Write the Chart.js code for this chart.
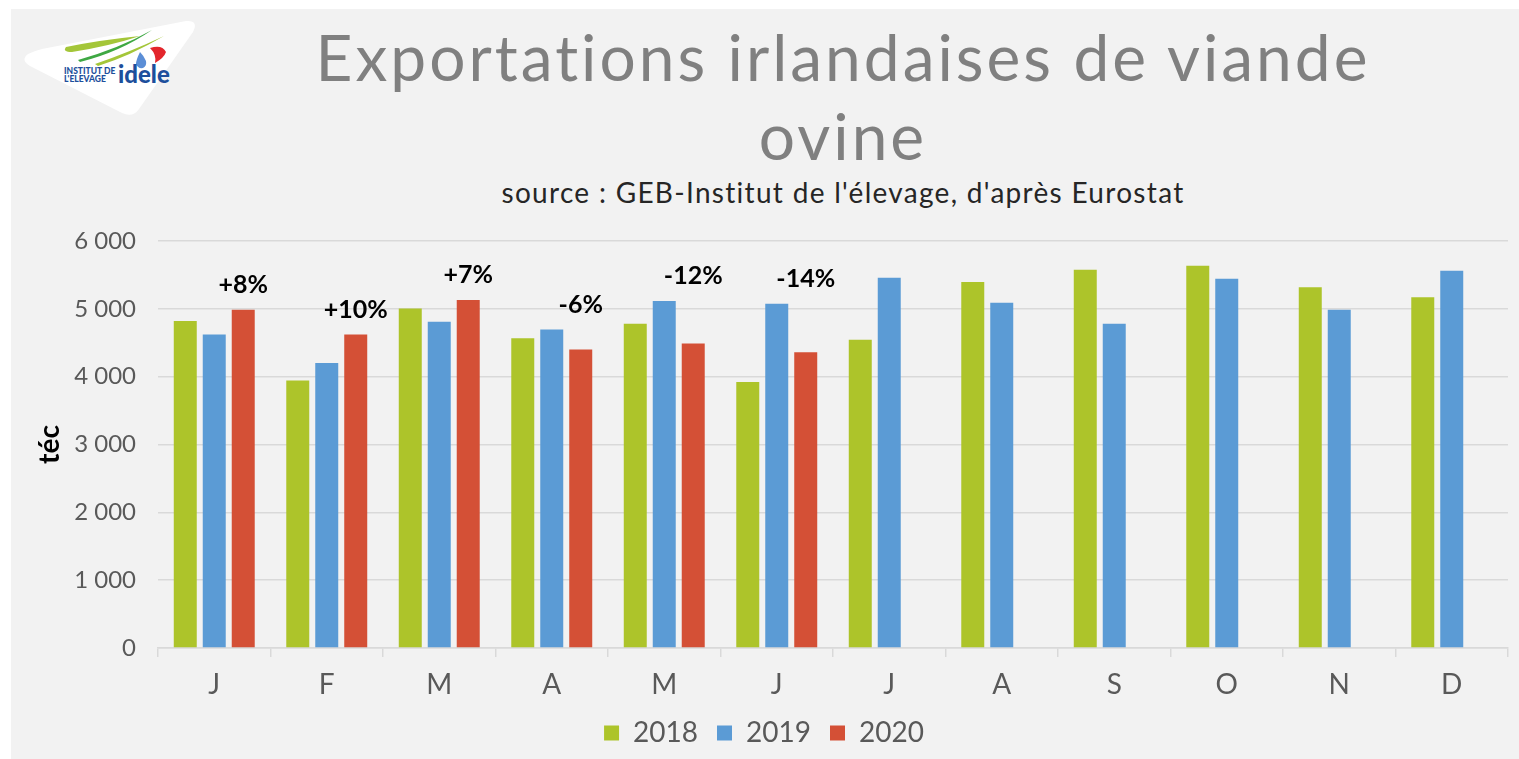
<!DOCTYPE html>
<html>
<head>
<meta charset="utf-8">
<script src="https://cdn.jsdelivr.net/npm/chart.js@4.4.1/dist/chart.umd.min.js"></script>
<style>
  html, body { margin: 0; padding: 0; background: #ffffff; }
  body { width: 1519px; height: 759px; position: relative; overflow: hidden; font-family: Lato, "Open Sans", sans-serif; }
  #bg { position: absolute; left: 11px; top: 9px; width: 1508px; height: 750px; background: #f2f2f2; }
  #wrap { position: absolute; left: 0; top: 0; width: 1519px; height: 759px; }
  #title { position: absolute; left: 243px; width: 1200px; top: 17px; text-align: center; color: #808080;
           font-family: Lato, sans-serif; font-weight: 400; font-size: 64px; line-height: 79px; letter-spacing: 3px; }
  #subtitle { position: absolute; left: 243px; width: 1200px; top: 175px; text-align: center; color: #262626;
              font-family: Lato, sans-serif; font-size: 28px; line-height: 34px; letter-spacing: 1.3px; }
  #logo { position: absolute; left: 0; top: 0; }
</style>
</head>
<body>
<div id="bg"></div>
<svg id="logo" width="210" height="125" viewBox="0 0 210 125">
  <path d="M 28 54 Q 20 60 30 66 L 122 113 Q 133 118 139 109 L 193 32 Q 199 20 186 21 L 42 49 Q 34 51 28 54 Z" fill="#ffffff"/>
  <path d="M 66 47 Q 100 40 140 36 Q 110 46 72 52 Q 62 52 66 47 Z" fill="#a4c639"/>
  <path d="M 78 60 Q 120 48 152 30 Q 120 52 80 62 Z" fill="#3ea843"/>
  <path d="M 95 64 Q 130 52 164 36 Q 130 56 98 66 Z" fill="#a4c639"/>
  <path d="M 140 52 Q 136 60 136 64 Q 138 69 143 68 Q 147 66 146 61 Q 144 56 140 52 Z" fill="#5b8ed6"/>
  <path d="M 150 48 Q 162 44 166 52 Q 164 58 155 63 Q 157 55 150 48 Z" fill="#e3262c"/>
  <text x="64" y="74" font-family="Lato, sans-serif" font-weight="900" font-size="8.5" fill="#1d4f9c">INSTITUT DE</text>
  <text x="64" y="82" font-family="Lato, sans-serif" font-weight="900" font-size="8.5" fill="#1d4f9c">L'ELEVAGE</text>
  <text x="118" y="83" font-family="Lato, sans-serif" font-weight="900" font-size="24" fill="#1d4f9c">idele</text>
</svg>
<div id="title">Exportations irlandaises de viande<br>ovine</div>
<div id="subtitle">source : GEB-Institut de l'élevage, d'après Eurostat</div>
<div id="wrap"><canvas id="c" width="1519" height="759"></canvas></div>
<script>
const months = ['J','F','M','A','M','J','J','A','S','O','N','D'];
const years = ['2018','2019','2020'];
const v2018 = [4820, 3945, 5005, 4565, 4780, 3920, 4545, 5395, 5575, 5635, 5320, 5170];
const v2019 = [4620, 4200, 4810, 4695, 5115, 5075, 5460, 5090, 4780, 5445, 4985, 5560];
const v2020 = [4985, 4620, 5130, 4400, 4490, 4360, null, null, null, null, null, null];
const changes = ['+8%','+10%','+7%','-6%','-12%','-14%', null, null, null, null, null, null];
const yTicks = [0, 1000, 2000, 3000, 4000, 5000, 6000];

const colors = ['#adc42a', '#5b9bd5', '#d45036'];

const changeLabels = {
  id: 'changeLabels',
  afterDatasetsDraw(chart) {
    const ctx = chart.ctx;
    const metas = [0,1,2].map(i => chart.getDatasetMeta(i));
    ctx.save();
    ctx.font = 'bold 25px Lato, sans-serif';
    ctx.fillStyle = '#000000';
    ctx.textAlign = 'center';
    ctx.textBaseline = 'middle';
    changes.forEach((txt, i) => {
      if (!txt) return;
      const red = metas[2].data[i];
      const top = Math.min(...metas.map(m => m.data[i] ? m.data[i].y : Infinity));
      ctx.fillText(txt, red.x, top - 25);
    });
    ctx.restore();
  }
};

new Chart(document.getElementById('c'), {
  type: 'bar',
  data: {
    labels: months,
    datasets: [
      { label: years[0], data: v2018, backgroundColor: colors[0] },
      { label: years[1], data: v2019, backgroundColor: colors[1] },
      { label: years[2], data: v2020, backgroundColor: colors[2] }
    ]
  },
  options: {
    responsive: false,
    animation: false,
    devicePixelRatio: 1,
    categoryPercentage: 0.773,
    barPercentage: 0.793,
    layout: { padding: { left: 20, top: 241, right: 11, bottom: 2 } },
    plugins: {
      legend: {
        position: 'bottom',
        labels: {
          boxWidth: 15, boxHeight: 15, padding: 19,
          color: '#595959',
          font: { family: 'Lato, sans-serif', size: 28, lineHeight: 0.8 }
        }
      },
      tooltip: { enabled: false },
      title: { display: false }
    },
    scales: {
      x: {
        afterFit(scale) { scale.height = 52; },
        grid: { display: true, drawOnChartArea: false, drawTicks: true, tickLength: 9, color: '#d9d9d9', lineWidth: 1.5 },
        border: { display: true, color: '#d9d9d9', width: 1.5 },
        ticks: { color: '#595959', padding: 17, font: { family: 'Lato, sans-serif', size: 28, lineHeight: 0.8 } }
      },
      y: {
        min: 0, max: 6000,
        afterBuildTicks(scale) { scale.ticks = yTicks.map(v => ({ value: v })); },
        afterFit(scale) { scale.width = 138; },
        grid: { color: '#d9d9d9', lineWidth: 1.5, drawTicks: false },
        border: { display: false },
        ticks: {
          padding: 22, color: '#595959',
          font: { family: 'Lato, sans-serif', size: 24 },
          callback: v => String(v).replace(/\B(?=(\d{3})+(?!\d))/g, ' ')
        },
        title: { display: true, text: 'téc', color: '#000000', padding: { top: 13, bottom: 0 },
                 font: { family: 'Lato, sans-serif', size: 28, weight: 'bold' } }
      }
    }
  },
  plugins: [changeLabels]
});
</script>
</body>
</html>
